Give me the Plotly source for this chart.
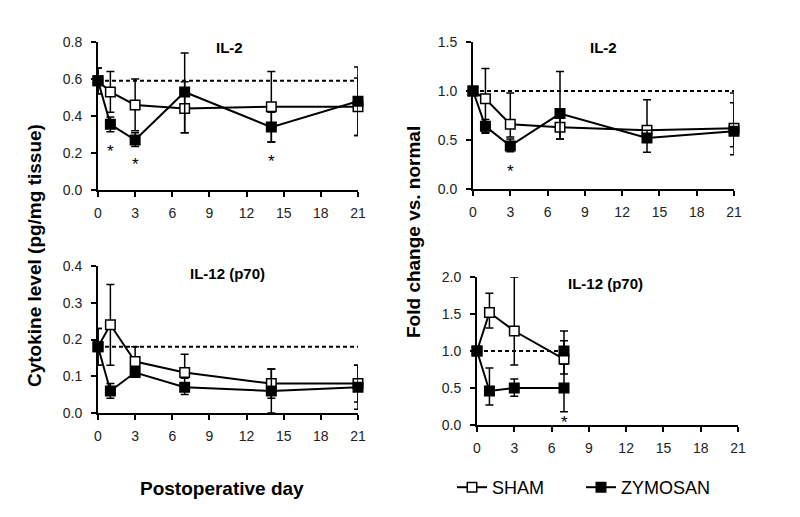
import plotly.graph_objects as go

W, H = 800, 517

days = [0, 1, 3, 7, 14, 21]
days_il12_fold = [0, 1, 3, 7]
x_ticks = [0, 3, 6, 9, 12, 15, 18, 21]

# Panel A: IL-2 cytokine level (pg/mg tissue)
il2_sham = [0.59, 0.53, 0.46, 0.44, 0.45, 0.45]
il2_sham_err_plus = [0.07, 0.11, 0.14, 0.145, 0.19, 0.155]
il2_sham_err_minus = [0.07, 0.11, 0.14, 0.13, 0.19, 0.155]
il2_zym = [0.59, 0.355, 0.27, 0.53, 0.34, 0.48]
il2_zym_err_plus = [0.07, 0.04, 0.04, 0.21, 0.08, 0.185]
il2_zym_err_minus = [0.07, 0.04, 0.035, 0.22, 0.08, 0.185]
il2_normal = 0.59

# Panel B: IL-2 fold change vs. normal
il2f_sham = [1.0, 0.92, 0.66, 0.63, 0.60, 0.62]
il2f_sham_err_plus = [0, 0.31, 0.32, 0.11, 0.31, 0.36]
il2f_sham_err_minus = [0, 0.34, 0.13, 0.12, 0.08, 0.19]
il2f_zym = [1.0, 0.64, 0.44, 0.77, 0.52, 0.59]
il2f_zym_err_plus = [0, 0.07, 0.07, 0.43, 0.08, 0.29]
il2f_zym_err_minus = [0, 0.07, 0.06, 0.26, 0.145, 0.24]
il2f_normal = 1.0

# Panel C: IL-12 (p70) cytokine level
il12_sham = [0.18, 0.24, 0.14, 0.11, 0.08, 0.08]
il12_sham_err_plus = [0.05, 0.11, 0.04, 0.05, 0.04, 0.05]
il12_sham_err_minus = [0.05, 0.11, 0.04, 0.015, 0.04, 0.05]
il12_zym = [0.18, 0.06, 0.11, 0.07, 0.06, 0.07]
il12_zym_err_plus = [0.05, 0.02, 0.01, 0.025, 0.06, 0.06]
il12_zym_err_minus = [0.05, 0.02, 0.01, 0.02, 0.06, 0.06]
il12_normal = 0.18

# Panel D: IL-12 (p70) fold change vs. normal
il12f_sham = [1.0, 1.52, 1.27, 0.89]
il12f_sham_err_plus = [0, 0.26, 0.73, 0.25]
il12f_sham_err_minus = [0, 0.21, 0.46, 0.2]
il12f_zym = [1.0, 0.46, 0.5, 0.5]
il12f_zym_err_plus = [0, 0.31, 0.12, 0.32]
il12f_zym_err_minus = [0, 0.19, 0.11, 0.32]
il12f_extra_day = [7]
il12f_extra = [1.0]
il12f_extra_err_plus = [0.27]
il12f_extra_err_minus = [0.0]
il12f_normal = 1.0

# Significance asterisks (day, y position in data units)
ast_il2_days = [1, 3, 14]
ast_il2_y = [0.23, 0.158, 0.177]
ast_il2f_days = [3]
ast_il2f_y = [0.22]
ast_il12f_days = [7]
ast_il12f_y = [0.09]

FONT = "Liberation Sans, Arial, sans-serif"

fig = go.Figure()


def err(plus, minus):
    return dict(type="data", symmetric=False, array=plus, arrayminus=minus,
                color="black", thickness=1.5, width=4)


def add_series(xa, ya, x, y, plus, minus, filled, name, show):
    fig.add_trace(go.Scatter(
        x=x, y=y, xaxis=xa, yaxis=ya, mode="lines+markers", name=name,
        showlegend=show, cliponaxis=False,
        line=dict(color="black", width=2),
        marker=dict(symbol="square", size=9.5,
                    color="black" if filled else "white",
                    line=dict(color="black", width=1.5)),
        error_y=err(plus, minus)))


def add_normal(xa, ya, x0, x1, val):
    fig.add_trace(go.Scatter(
        x=[x0, x1], y=[val, val], xaxis=xa, yaxis=ya, mode="lines",
        showlegend=False, hoverinfo="skip",
        line=dict(color="black", width=2, dash="4px,3px")))


# Normal reference lines
add_normal("x", "y", 0, 21, il2_normal)
add_normal("x2", "y2", 0, 21, il2f_normal)
add_normal("x3", "y3", 0, 21, il12_normal)
add_normal("x4", "y4", 0, 7, il12f_normal)

# Panel A
add_series("x", "y", days, il2_sham, il2_sham_err_plus, il2_sham_err_minus, False, "SHAM", True)
add_series("x", "y", days, il2_zym, il2_zym_err_plus, il2_zym_err_minus, True, "ZYMOSAN", True)
# Panel B
add_series("x2", "y2", days, il2f_sham, il2f_sham_err_plus, il2f_sham_err_minus, False, "SHAM", False)
add_series("x2", "y2", days, il2f_zym, il2f_zym_err_plus, il2f_zym_err_minus, True, "ZYMOSAN", False)
# Panel C
add_series("x3", "y3", days, il12_sham, il12_sham_err_plus, il12_sham_err_minus, False, "SHAM", False)
add_series("x3", "y3", days, il12_zym, il12_zym_err_plus, il12_zym_err_minus, True, "ZYMOSAN", False)
# Panel D
add_series("x4", "y4", days_il12_fold, il12f_sham, il12f_sham_err_plus, il12f_sham_err_minus, False, "SHAM", False)
add_series("x4", "y4", days_il12_fold, il12f_zym, il12f_zym_err_plus, il12f_zym_err_minus, True, "ZYMOSAN", False)
fig.add_trace(go.Scatter(
    x=il12f_extra_day, y=il12f_extra, xaxis="x4", yaxis="y4", mode="markers",
    showlegend=False, cliponaxis=False,
    marker=dict(symbol="square", size=9.5, color="black", line=dict(color="black", width=1.5)),
    error_y=err(il12f_extra_err_plus, il12f_extra_err_minus)))

# Asterisks
for xa, ya, xs, ys in [("x", "y", ast_il2_days, ast_il2_y),
                       ("x2", "y2", ast_il2f_days, ast_il2f_y),
                       ("x4", "y4", ast_il12f_days, ast_il12f_y)]:
    for dx, dy in zip(xs, ys):
        fig.add_annotation(x=dx, y=dy, xref=xa, yref=ya, text="*", showarrow=False,
                           font=dict(family=FONT, size=17, color="black"),
                           yanchor="middle", yshift=-4)


def px_x(p):
    return p / W


def px_y(p):
    return 1 - p / H


def xaxis(dom, anchor):
    return dict(domain=dom, anchor=anchor, range=[0, 21], tickvals=x_ticks,
                automargin=False,
                showgrid=False, zeroline=False, showline=True, linecolor="black",
                linewidth=2, ticks="outside", ticklen=5, tickwidth=2, tickcolor="black",
                ticklabelstandoff=4,
                tickfont=dict(family=FONT, size=14, color="#222"))


def yaxis(dom, anchor, rng, dt):
    return dict(domain=dom, anchor=anchor, range=rng, dtick=dt, tick0=0,
                automargin=False,
                tickformat=".1f", showgrid=False, zeroline=False, showline=True,
                linecolor="black", linewidth=2, ticks="outside", ticklen=5,
                tickwidth=2, tickcolor="black", ticklabelstandoff=6,
                tickfont=dict(family=FONT, size=14, color="#222"))


fig.update_layout(
    width=W, height=H, margin=dict(l=0, r=0, t=0, b=0, autoexpand=False),
    paper_bgcolor="white", plot_bgcolor="white",
    xaxis=xaxis([px_x(98), px_x(358)], "y"),
    yaxis=yaxis([px_y(190), px_y(42)], "x", [0, 0.8], 0.2),
    xaxis2=xaxis([px_x(473), px_x(734)], "y2"),
    yaxis2=yaxis([px_y(189), px_y(42)], "x2", [0, 1.5], 0.5),
    xaxis3=xaxis([px_x(98), px_x(358)], "y3"),
    yaxis3=yaxis([px_y(413), px_y(266)], "x3", [0, 0.4], 0.1),
    xaxis4=xaxis([px_x(477), px_x(738)], "y4"),
    yaxis4=yaxis([px_y(425), px_y(277)], "x4", [0, 2.0], 0.5),
    showlegend=True,
    legend=dict(orientation="h", x=px_x(452), y=px_y(469), xanchor="left", yanchor="top",
                font=dict(family=FONT, size=18, color="black"),
                entrywidth=84, entrywidthmode="pixels", bgcolor="rgba(0,0,0,0)"),
    font=dict(family=FONT, color="black"),
)

titles = [("IL-2", 230, 47), ("IL-2", 603, 47), ("IL-12 (p70)", 227, 273), ("IL-12 (p70)", 605, 283)]
for t, x, y in titles:
    fig.add_annotation(x=px_x(x), y=px_y(y), xref="paper", yref="paper", text=f"<b>{t}</b>",
                       showarrow=False, font=dict(family=FONT, size=15, color="black"),
                       xanchor="center", yanchor="middle")

fig.add_annotation(x=px_x(35), y=px_y(256), xref="paper", yref="paper",
                   text="<b>Cytokine level (pg/mg tissue)</b>", textangle=-90, showarrow=False,
                   font=dict(family=FONT, size=19, color="black"), xanchor="center", yanchor="middle")
fig.add_annotation(x=px_x(413), y=px_y(232), xref="paper", yref="paper",
                   text="<b>Fold change vs. normal</b>", textangle=-90, showarrow=False,
                   font=dict(family=FONT, size=19, color="black"), xanchor="center", yanchor="middle")
fig.add_annotation(x=px_x(222), y=px_y(488), xref="paper", yref="paper",
                   text="<b>Postoperative day</b>", showarrow=False,
                   font=dict(family=FONT, size=19, color="black"), xanchor="center", yanchor="middle")

fig.write_html("out.html", config={"displayModeBar": False},
               post_script="document.body.style.margin='0';")
